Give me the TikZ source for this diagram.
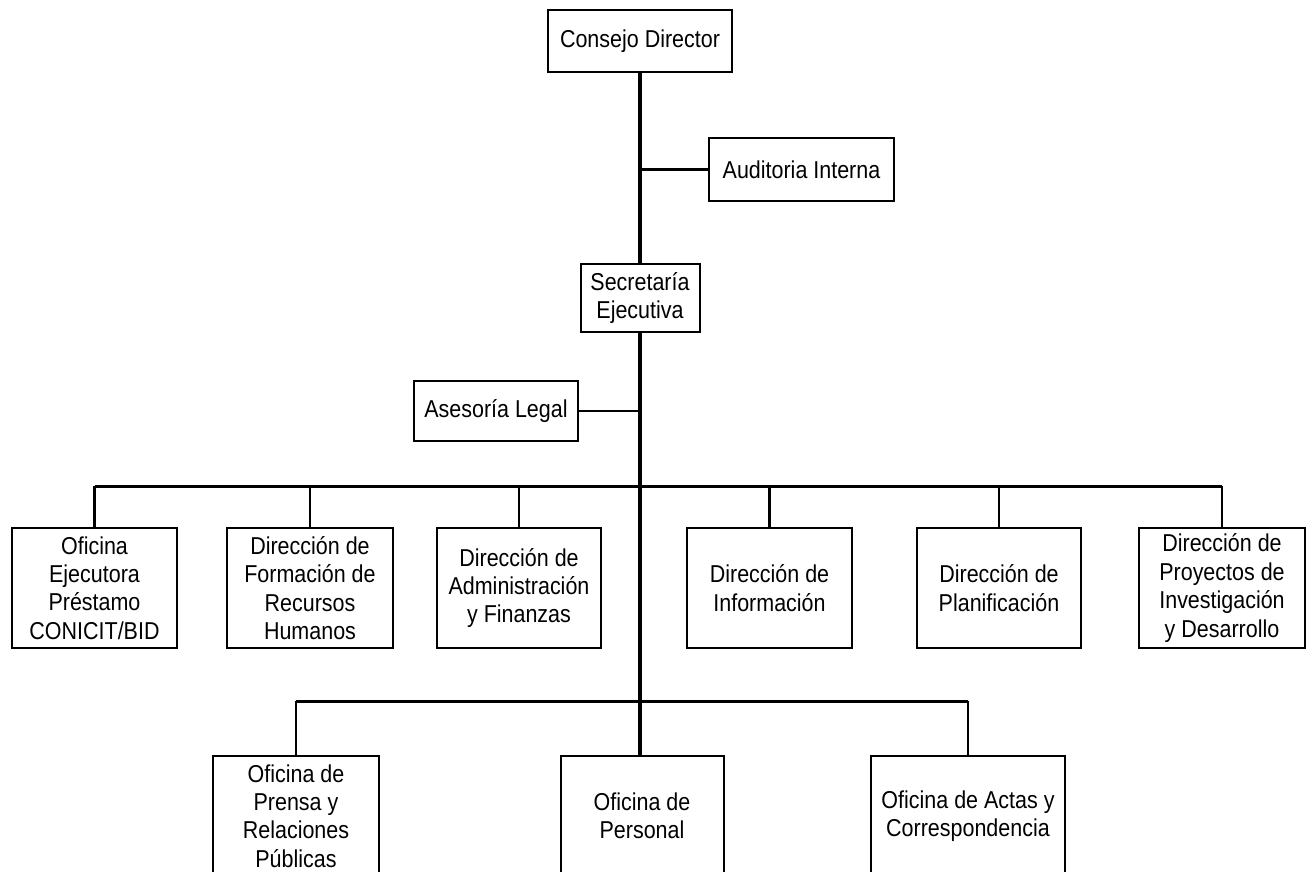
\documentclass[tikz,border=0pt]{standalone}
\usepackage{fontspec}
\setmainfont{Liberation Sans}[FakeStretch=0.88]
\begin{document}
\begin{tikzpicture}[x=0.5pt,y=-0.5pt,
    unidad/.style={draw,line width=1pt,align=center,inner sep=0pt,
        font=\fontsize{12.2}{14.2}\selectfont},
    tronco/.style={line width=1.7pt},
    bus/.style={line width=1.5pt},
    rama/.style={line width=1.1pt},
    fina/.style={line width=0.9pt}]
    \useasboundingbox (0,0) rectangle (1308,872);
    \clip (0,0) rectangle (1308,872);

    % direccion superior
    \node[unidad,minimum width=92pt,minimum height=31pt] (consejo) at (640,41) {Consejo Director};
    \node[unidad,minimum width=92.5pt,minimum height=31.5pt] (auditoria) at (801.5,169.5) {Auditoria Interna};
    \node[unidad,minimum width=59.5pt,minimum height=34pt] (secretaria) at (640,298) {Secretaría\\Ejecutiva};
    \node[unidad,minimum width=82pt,minimum height=30pt] (asesoria) at (496,411) {Asesoría Legal};

    % direcciones
    \node[unidad,minimum width=82.5pt,minimum height=60pt] (ejecutora) at (94.5,588) {Oficina\\Ejecutora\\Préstamo\\CONICIT/BID};
    \node[unidad,minimum width=83pt,minimum height=60pt] (formacion) at (310,588) {Dirección de\\Formación de\\Recursos\\Humanos};
    \node[unidad,minimum width=82pt,minimum height=60pt] (administracion) at (519,588) {Dirección de\\Administración\\y Finanzas};
    \node[unidad,minimum width=82.5pt,minimum height=60pt] (informacion) at (769.5,588) {Dirección de\\Información};
    \node[unidad,minimum width=82pt,minimum height=60pt] (planificacion) at (999,588) {Dirección de\\Planificación};
    \node[unidad,minimum width=83pt,minimum height=60pt] (proyectos) at (1222,588) {Dirección de\\Proyectos de\\Investigación\\y Desarrollo};

    % oficinas
    \node[unidad,minimum width=83pt,minimum height=60pt] (prensa) at (296,816) {Oficina de\\Prensa y\\Relaciones\\Públicas};
    \node[unidad,minimum width=81.5pt,minimum height=60pt] (personal) at (642,816) {Oficina de\\Personal};
    \node[unidad,minimum width=97pt,minimum height=60pt] (actas) at (968,816) {Oficina de Actas y\\Correspondencia};

    \coordinate (nudo1) at (640,486);
    \coordinate (nudo2) at (640,701);

    % tronco central
    \draw[tronco] (consejo) -- (secretaria);
    \draw[tronco] (secretaria.south) -- (secretaria.south |- personal.north);
    \draw[rama] (auditoria.west) -- (auditoria.west -| consejo.south);
    \draw[fina] (asesoria.east) -- (asesoria.east -| secretaria.south);

    % barras
    \draw[bus] (ejecutora.north |- nudo1) -- (proyectos.north |- nudo1);
    \foreach \n in {ejecutora,formacion,administracion,informacion,planificacion,proyectos}
        \draw[rama] (\n.north) -- (\n.north |- nudo1);
    \draw[bus] (prensa.north |- nudo2) -- (actas.north |- nudo2);
    \foreach \n in {prensa,actas}
        \draw[rama] (\n.north) -- (\n.north |- nudo2);
\end{tikzpicture}
\end{document}
